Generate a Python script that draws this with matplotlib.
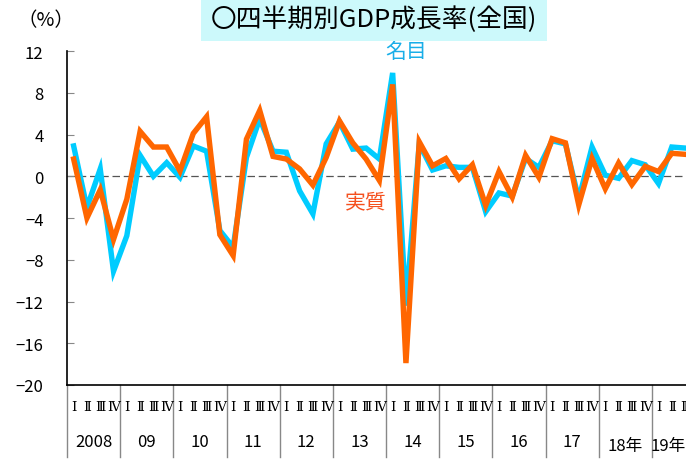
import matplotlib
matplotlib.use("Agg")
import matplotlib.pyplot as plt
import matplotlib.transforms as mtransforms
from matplotlib.patches import Rectangle
import numpy as np

plt.rcParams['font.family'] = ['Noto Sans CJK JP', 'DejaVu Sans']

# quarterly growth rate (%), 2008 Q1 - 2019 Q3
years = ['2008', '09', '10', '11', '12', '13', '14', '15', '16', '17', '18年', '19年']
quarters = ['Ⅰ', 'Ⅱ', 'Ⅲ', 'Ⅳ']
nominal = [2.9, -3.0, 0.7, -9.1,
           -5.7, 2.0, 0.0, 1.3,
           -0.1, 2.9, 2.4, -5.2,
           -6.8, 1.8, 5.5, 2.4,
           2.3, -1.4, -3.6, 3.1,
           5.2, 2.6, 2.7, 1.65,
           9.9, -12.4, 3.1, 0.6,
           1.0, 0.85, 0.85, -3.4,
           -1.6, -1.9, 1.7, 0.85,
           3.4, 3.1, -2.2, 2.8,
           0.1, -0.2, 1.5, 1.1,
           -0.7, 2.8, 2.7]
real = [1.65, -4.0, -1.3, -6.05,
        -2.2, 4.3, 2.8, 2.8,
        0.5, 4.1, 5.7, -5.6,
        -7.6, 3.55, 6.3, 1.9,
        1.65, 0.7, -0.85, 1.8,
        5.3, 3.2, 1.65, -0.4,
        8.8, -17.9, 3.3, 1.0,
        1.7, -0.25, 1.1, -2.8,
        0.45, -2.0, 2.0, -0.1,
        3.6, 3.2, -2.75, 1.7,
        -1.2, 1.27, -0.8, 0.95,
        0.45, 2.2, 2.1]

x = np.arange(len(nominal))

fig = plt.figure(figsize=(6.86, 4.77), dpi=100)
# axes runs past the right edge, like the cropped original
ax = fig.add_axes([67/686, 91/477, 638/686, 334/477])

ax.axhline(0, color='#555555', lw=0.9, ls=(0, (6, 3)), zorder=1)
ax.plot(x, nominal, color='#00ccff', lw=3.9, solid_joinstyle='miter', zorder=2)
ax.plot(x, real, color='#ff6600', lw=3.9, solid_joinstyle='miter', zorder=3)

ax.set_xlim(-0.5, 47.5)
ax.set_ylim(-20, 12)
ax.set_yticks(np.arange(-20, 13, 4))
ax.set_yticklabels([str(v).replace('-', '−') for v in range(-20, 13, 4)], fontsize=12)
ax.tick_params(axis='y', direction='in', length=5, color='#888888', pad=17)
ax.set_xticks([])
for s in ['top', 'right']:
    ax.spines[s].set_visible(False)
ax.spines['left'].set_linewidth(1.2)
ax.spines['bottom'].set_linewidth(1.2)

# quarter / year labels below the axis
trans = mtransforms.blended_transform_factory(ax.transData, ax.transAxes)
for i in range(len(years)):
    ax.plot([4*i - 0.5, 4*i - 0.5], [0, -0.215], color='#888888', lw=1,
            transform=trans, clip_on=False)
    for q in range(4):
        if i == len(years) - 1 and q == 3:
            continue
        ax.text(4*i + q, -0.065, quarters[q], transform=trans, ha='center',
                va='center', fontsize=9.5,
                family=['DejaVu Serif', 'Noto Sans CJK JP'])
    yy = -0.17 if '年' not in years[i] else -0.18
    xc = 4*i + 1.5 if i < len(years) - 1 else 4*i + 0.7
    ax.text(xc, yy, years[i], transform=trans, ha='center', va='center', fontsize=12)

fig.text(46/686, 1 - 21/477, '（%）', ha='center', va='center', fontsize=14)
fig.patches.append(Rectangle((201/686, 1 - 42/477), 346/686, 42/477,
                             transform=fig.transFigure, fc='#ccf9fb', ec='none'))
fig.text(374/686, 1 - 20/477, '〇四半期別GDP成長率(全国)', ha='center', va='center',
         fontsize=18.5)
ax.text(406/686, 1 - 52/477, '名目', transform=fig.transFigure, ha='center',
        va='center', fontsize=15, color='#19aee8')
ax.text(366/686, 1 - 203/477, '実質', transform=fig.transFigure, ha='center',
        va='center', fontsize=15, color='#f5501e')

fig.savefig('out.png', dpi=100)
